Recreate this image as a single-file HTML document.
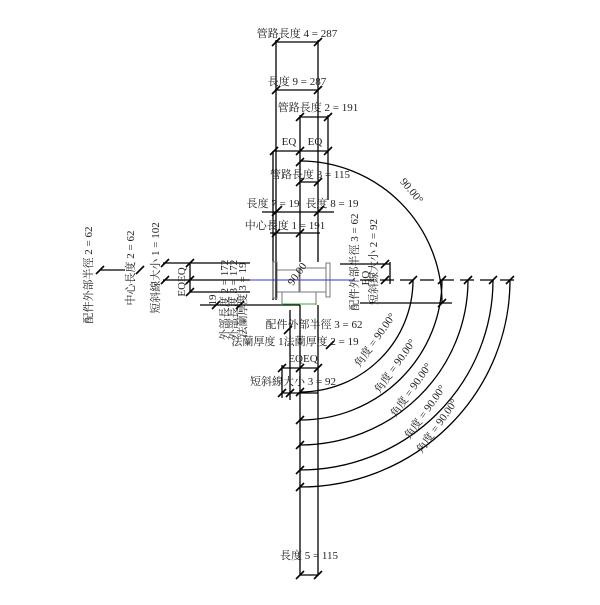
<!DOCTYPE html>
<html><head><meta charset="utf-8"><style>
html,body{margin:0;padding:0;background:#fff}
svg text{font-family:"Liberation Serif","Noto Serif CJK TC",serif;font-size:11px;fill:#222}
</style></head><body>
<svg width="600" height="600" viewBox="0 0 600 600" xmlns="http://www.w3.org/2000/svg">
<defs>
<g id="tk"><line x1="-4" y1="4" x2="4" y2="-4" stroke="#000" stroke-width="1.6"/></g>
</defs>
<g stroke="#000" stroke-width="1.3" fill="none">
<line x1="276" y1="40" x2="276" y2="300"/>
<line x1="273" y1="151" x2="273" y2="300"/>
<line x1="318" y1="40" x2="318" y2="262"/>
<line x1="328" y1="115" x2="328" y2="200"/>
<line x1="300" y1="115" x2="300" y2="262"/>
<line x1="300" y1="305" x2="300" y2="575"/>
<line x1="318" y1="305" x2="318" y2="575"/>
<line x1="290" y1="310" x2="290" y2="400"/>
<line x1="276" y1="42" x2="318" y2="42"/>
<line x1="276" y1="90" x2="318" y2="90"/>
<line x1="300" y1="117" x2="328" y2="117"/>
<line x1="274" y1="151" x2="328" y2="151"/>
<line x1="300" y1="182" x2="318" y2="182"/>
<line x1="262" y1="212" x2="334" y2="212"/>
<line x1="270" y1="233" x2="320" y2="233"/>
<line x1="100" y1="270" x2="125" y2="270"/>
<line x1="163" y1="263" x2="250" y2="263"/>
<line x1="163" y1="280" x2="250" y2="280"/>
<line x1="190" y1="292" x2="250" y2="292"/>
<line x1="200" y1="305" x2="300" y2="305"/>
<line x1="190" y1="263" x2="190" y2="292"/>
<line x1="340" y1="264" x2="390" y2="264"/>
<line x1="360" y1="280" x2="520" y2="280" stroke-dasharray="14,6"/>
<line x1="360" y1="303" x2="452" y2="303"/>
<line x1="390" y1="262" x2="390" y2="284"/>
<line x1="282" y1="393" x2="318" y2="393"/>
<line x1="282" y1="368" x2="318" y2="368"/>
<line x1="282" y1="365" x2="282" y2="398"/>
<line x1="300" y1="575" x2="318" y2="575"/>
<path d="M300,161 A142,142 0 0 1 442,303"/>
<path d="M300,392 A113,112 0 0 0 413,280"/>
<path d="M300,420 A142,140 0 0 0 442,280"/>
<path d="M300,445 A168,165 0 0 0 468,280"/>
<path d="M300,470 A193,190 0 0 0 493,280"/>
<path d="M300,487 A210,207 0 0 0 510,280"/>
</g>
<g stroke="#777" stroke-width="1" fill="none">
<rect x="273" y="262" width="4" height="36"/>
<rect x="326" y="263" width="4" height="34"/>
<rect x="277" y="270" width="22" height="22"/>
<rect x="300" y="268" width="26" height="24"/>
<line x1="282" y1="292" x2="282" y2="305"/>
<line x1="316" y1="292" x2="316" y2="305"/>
</g>
<line x1="250" y1="280" x2="355" y2="280" stroke="#33c" stroke-width="1"/>
<line x1="282" y1="304" x2="316" y2="304" stroke="#3a3" stroke-width="1"/>
<g>
<use href="#tk" x="276" y="42"/><use href="#tk" x="318" y="42"/>
<use href="#tk" x="276" y="90"/><use href="#tk" x="318" y="90"/>
<use href="#tk" x="300" y="117"/><use href="#tk" x="328" y="117"/>
<use href="#tk" x="274" y="151"/><use href="#tk" x="300" y="151"/><use href="#tk" x="328" y="151"/>
<use href="#tk" x="300" y="182"/><use href="#tk" x="318" y="182"/>
<use href="#tk" x="300" y="162"/>
<use href="#tk" x="276" y="212"/><use href="#tk" x="278" y="210"/><use href="#tk" x="318" y="212"/><use href="#tk" x="320" y="210"/>
<use href="#tk" x="276" y="233"/><use href="#tk" x="300" y="233"/>
<use href="#tk" x="100" y="270"/>
<use href="#tk" x="140" y="270"/>
<use href="#tk" x="165" y="263"/><use href="#tk" x="165" y="280"/><use href="#tk" x="190" y="263"/><use href="#tk" x="190" y="280"/><use href="#tk" x="190" y="292"/>
<use href="#tk" x="216" y="305"/><use href="#tk" x="240" y="305"/>
<use href="#tk" x="385" y="264"/><use href="#tk" x="385" y="280"/>
<use href="#tk" x="413" y="280"/><use href="#tk" x="442" y="280"/><use href="#tk" x="468" y="280"/><use href="#tk" x="493" y="280"/><use href="#tk" x="510" y="280"/>
<use href="#tk" x="442" y="303"/>
<use href="#tk" x="300" y="392"/><use href="#tk" x="300" y="420"/><use href="#tk" x="300" y="445"/><use href="#tk" x="300" y="470"/><use href="#tk" x="300" y="487"/>
<use href="#tk" x="282" y="393"/><use href="#tk" x="290" y="393"/>
<use href="#tk" x="282" y="368"/><use href="#tk" x="300" y="368"/><use href="#tk" x="318" y="368"/>
<use href="#tk" x="300" y="575"/><use href="#tk" x="318" y="575"/>
<use href="#tk" x="288" y="330"/><use href="#tk" x="330" y="345"/>
</g>
<g text-anchor="middle">
<text x="297" y="37">管路長度 4 = 287</text>
<text x="297" y="85">長度 9 = 287</text>
<text x="318" y="111">管路長度 2 = 191</text>
<text x="289" y="145">EQ</text><text x="315" y="145">EQ</text>
<text x="310" y="178">管路長度 3 = 115</text>
<text x="273" y="207">長度 7 = 19</text><text x="332" y="207">長度 8 = 19</text>
<text x="285" y="229">中心長度 1 = 191</text>
<text x="314" y="328">配件外部半徑 3 = 62</text>
<text x="295" y="345">法蘭厚度 1法蘭厚度 2 = 19</text>
<text x="303" y="362">EQEQ</text>
<text x="293" y="385">短斜線大小 3 = 92</text>
<text x="309" y="559">長度 5 = 115</text>
</g>
<g text-anchor="middle">
<text transform="translate(92,275) rotate(-90)">配件外部半徑 2 = 62</text>
<text transform="translate(134,268) rotate(-90)">中心長度 2 = 62</text>
<text transform="translate(159,268) rotate(-90)">短斜線大小 1 = 102</text>
<text transform="translate(185,282) rotate(-90)">EQEQ</text>
<text transform="translate(216,300) rotate(-90)">19</text>
<text transform="translate(228,300) rotate(-90)">外部長度 2 = 172</text>
<text transform="translate(237,300) rotate(-90)">外部長度 3 = 172</text>
<text transform="translate(246,300) rotate(-90)">法蘭厚度 3 = 19</text>
<text transform="translate(358,262) rotate(-90)">配件外部半徑 3 = 62</text>
<text transform="translate(369,278) rotate(-90)">EQ</text>
<text transform="translate(377,262) rotate(-90)">短斜線大小 2 = 92</text>
<text transform="translate(300,276) rotate(-55)">90.00</text>
<text transform="translate(409,193) rotate(50)">90.00°</text>
<text transform="translate(378,342) rotate(-55)">角度 = 90.00°</text>
<text transform="translate(398,368) rotate(-55)">角度 = 90.00°</text>
<text transform="translate(414,392) rotate(-55)">角度 = 90.00°</text>
<text transform="translate(428,414) rotate(-55)">角度 = 90.00°</text>
<text transform="translate(440,428) rotate(-55)">角度 = 90.00°</text>
</g>
</svg>
</body></html>
